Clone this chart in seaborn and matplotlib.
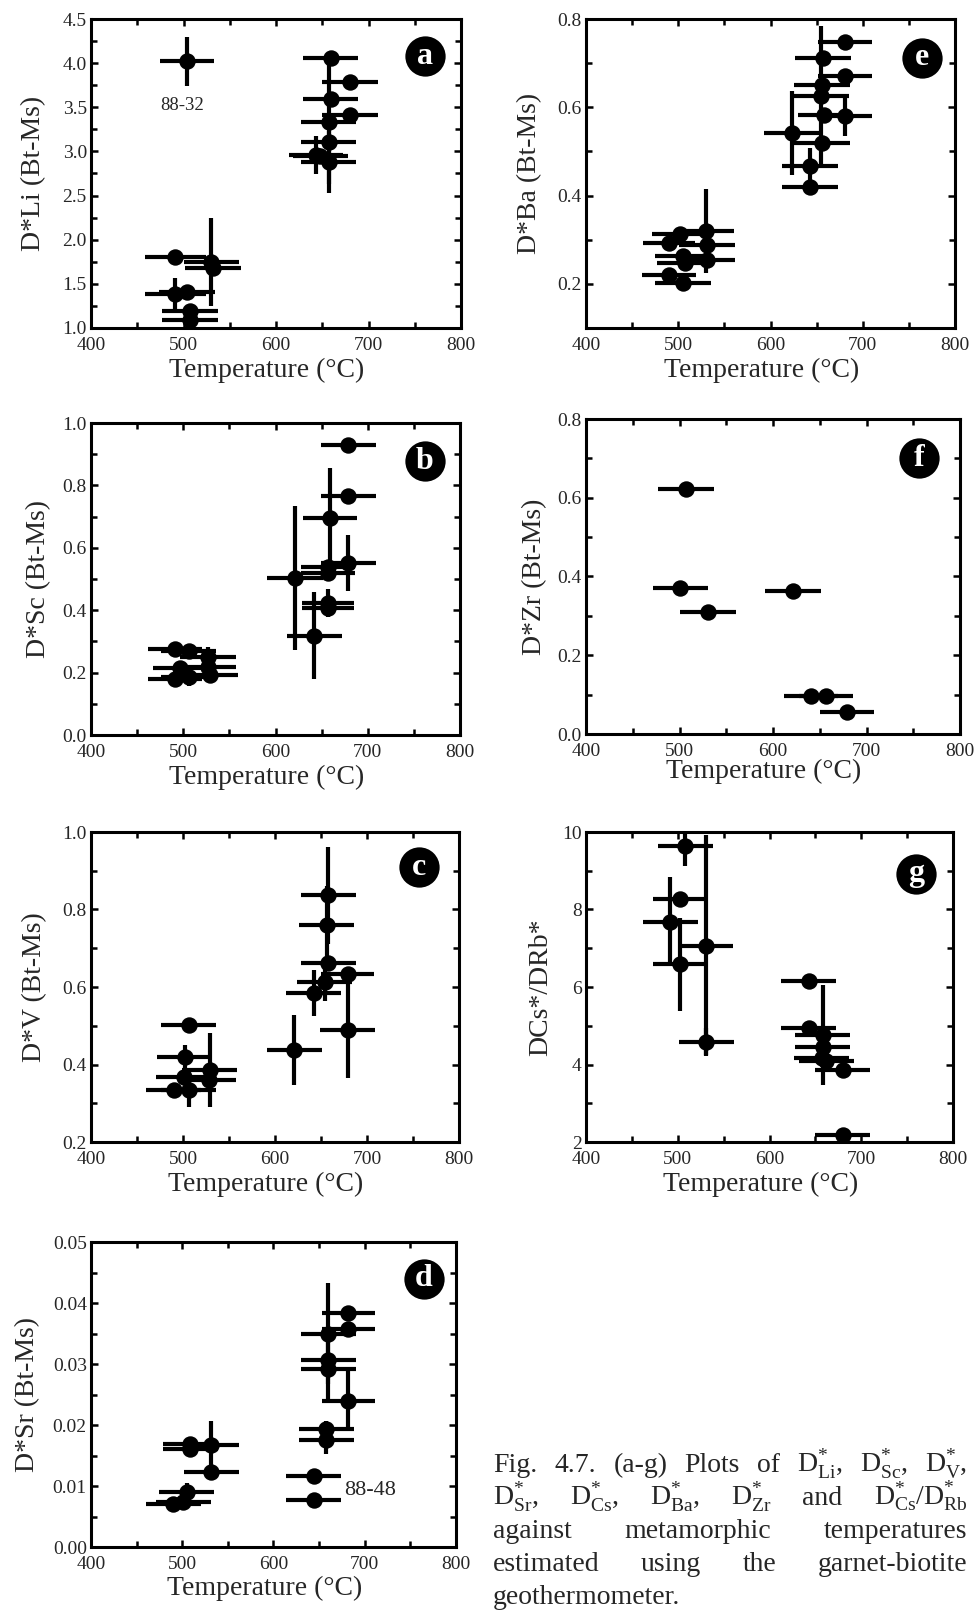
import matplotlib
matplotlib.use("Agg")
import matplotlib.pyplot as plt
from matplotlib.ticker import MultipleLocator, FormatStrFormatter
import numpy as np
import pandas as pd
import seaborn as sns

# ---------------------------------------------------------------- data
# (a) D*Li
T_LI = [504, 659, 680, 659, 680, 657, 657, 643, 648, 657, 491, 530, 532, 491, 504, 507, 507]
D_LI = [4.02, 4.06, 3.79, 3.59, 3.41, 3.33, 3.11, 2.96, 2.95, 2.88, 1.80, 1.75, 1.68, 1.38, 1.41, 1.19, 1.09]
YE_LI = [0.28, 0, 0, 0, 0, 0.70, 0, 0.22, 0, 0.35, 0, 0.50, 0, 0.19, 0, 0, 0]
XE_LI = [29, 30, 30, 30, 30, 30, 30, 29, 30, 30, 33, 30, 30, 33, 30, 30, 30]

# (e) D*Ba
T_BA = [681, 657, 681, 656, 655, 658, 681, 623, 656, 643, 643, 530, 502, 490, 531, 505, 531, 507, 490, 505]
D_BA = [0.749, 0.712, 0.670, 0.651, 0.625, 0.583, 0.580, 0.542, 0.519, 0.466, 0.420,
        0.319, 0.312, 0.293, 0.287, 0.263, 0.255, 0.248, 0.219, 0.202]
YE_BA = [0, 0, 0, 0, 0.16, 0, 0.045, 0.096, 0, 0.042, 0, 0.095, 0, 0, 0, 0, 0, 0, 0, 0]
XE_BA = [29, 30, 29, 30, 30, 28, 29, 30, 30, 30, 30, 30, 30, 28, 30, 30, 30, 30, 29, 30]

# (b) D*Sc
T_SC = [679, 679, 659, 679, 657, 657, 621, 657, 657, 642, 491, 506, 527, 497, 527, 529, 491, 506]
D_SC = [0.930, 0.767, 0.695, 0.551, 0.540, 0.519, 0.503, 0.422, 0.406, 0.318,
        0.275, 0.268, 0.251, 0.214, 0.219, 0.193, 0.179, 0.187]
YE_SC = [0, 0, 0.16, 0.09, 0, 0, 0.23, 0.045, 0, 0.14, 0, 0, 0.03, 0, 0, 0, 0, 0.03]
XE_SC = [30, 30, 29, 30, 29, 29, 30, 28, 28, 30, 29, 30, 30, 30, 30, 30, 29, 30]

# (f) D*Zr
T_ZR = [507, 501, 530, 621, 641, 657, 679]
D_ZR = [0.621, 0.371, 0.309, 0.364, 0.096, 0.096, 0.055]
XE_ZR = [30, 29, 30, 30, 29, 29, 29]

# (c) D*V
T_V = [658, 656, 658, 679, 654, 642, 679, 621, 506, 502, 529, 501, 490, 506, 528]
D_V = [0.837, 0.760, 0.661, 0.633, 0.614, 0.585, 0.489, 0.438, 0.502, 0.420, 0.386, 0.369, 0.335, 0.335, 0.360]
YE_V = [0.125, 0.10, 0, 0, 0.05, 0.06, 0.125, 0.09, 0, 0.03, 0.095, 0, 0, 0.045, 0]
XE_V = [30, 30, 30, 29, 30, 30, 30, 30, 30, 30, 30, 30, 30, 30, 30]

# (g) DCs*/DRb*
T_CSRB = [508, 502, 492, 531, 502, 531, 643, 643, 658, 658, 657, 662, 680, 680]
R_CSRB = [9.63, 8.26, 7.68, 7.06, 6.59, 4.59, 6.15, 4.95, 4.76, 4.46, 4.16, 4.08, 3.86, 2.19]
YE_CSRB = [0.5, 0, 1.15, 2.85, 1.2, 0.35, 0, 0, 1.3, 0, 0, 0, 0, 0]
XE_CSRB = [30, 29, 30, 29, 29, 30, 30, 30, 30, 30, 30, 30, 30, 30]

# (d) D*Sr
T_SR = [682, 660, 682, 660, 660, 682, 658, 658, 644, 644, 509, 509, 532, 532, 505, 490, 501]
D_SR = [0.0383, 0.0350, 0.0358, 0.0306, 0.0292, 0.0240, 0.0194, 0.0175, 0.0117, 0.0077,
        0.0169, 0.0161, 0.0167, 0.0123, 0.0090, 0.0071, 0.0074]
YE_SR = [0, 0.0083, 0, 0, 0.0055, 0.0048, 0.0012, 0.0022, 0, 0, 0, 0, 0.004, 0, 0.0015, 0, 0]
XE_SR = [29, 30, 29, 30, 30, 29, 30, 30, 30, 30, 30, 30, 30, 30, 30, 30, 30]

X_TICKS = [400, 500, 600, 700, 800]
X_LABEL = "Temperature (°C)"

# ---------------------------------------------------------------- style
sns.set_style("white")
plt.rcParams["font.family"] = ["Liberation Serif", "DejaVu Serif"]
plt.rcParams["mathtext.fontset"] = "custom"
plt.rcParams["mathtext.rm"] = "Liberation Serif"
plt.rcParams["mathtext.it"] = "Liberation Serif:italic"
plt.rcParams["mathtext.bf"] = "Liberation Serif:bold"

W, H = 974, 1610
fig = plt.figure(figsize=(W / 100, H / 100), dpi=100)
fig.patch.set_facecolor("white")


def make_axes(l, t, r, b):
    return fig.add_axes([l / W, 1 - b / H, (r - l) / W, (b - t) / H])


def panel(box, t, v, xe, ye, ylim, major, minor, fmt, ylabel, letter,
          letter_pos, ylab_x, xlab_y):
    ax = make_axes(*box)
    ax.errorbar(t, v, xerr=xe, yerr=ye, fmt="none", ecolor="black",
                elinewidth=3.0, capsize=0, zorder=2)
    df = pd.DataFrame({"T": t, "D": v})
    sns.scatterplot(data=df, x="T", y="D", ax=ax, color="black", s=140,
                    linewidth=0, zorder=3, legend=False)
    ax.set_xlim(400, 800)
    ax.set_ylim(*ylim)
    ax.set_xticks(X_TICKS)
    ax.xaxis.set_minor_locator(MultipleLocator(50))
    ax.yaxis.set_major_locator(MultipleLocator(major))
    ax.yaxis.set_minor_locator(MultipleLocator(minor))
    ax.yaxis.set_major_formatter(FormatStrFormatter(fmt))
    ax.xaxis.set_major_formatter(FormatStrFormatter("%d"))
    ax.tick_params(which="both", direction="in", top=True, right=True,
                   bottom=True, left=True, width=1.8, color="black",
                   labelsize=14)
    ax.tick_params(axis="y", which="both", pad=3)
    ax.tick_params(axis="x", which="both", pad=6.5)
    ax.tick_params(which="major", length=5)
    ax.tick_params(which="minor", length=4.5)
    for s in ax.spines.values():
        s.set_linewidth(2.2)
        s.set_color("black")
    ax.set_xlabel(X_LABEL, fontsize=20)
    ax.set_ylabel(ylabel, fontsize=20)
    ax.yaxis.set_label_coords(ylab_x, 0.5)
    ax.xaxis.set_label_coords(0.475, xlab_y)
    # panel letter in a black disc
    ax.scatter([letter_pos[0]], [letter_pos[1]], s=29 ** 2, c="black",
               transform=ax.transAxes, zorder=5, clip_on=False, linewidths=0)
    ax.text(letter_pos[0], letter_pos[1], letter, transform=ax.transAxes,
            color="white", fontsize=23, fontweight="bold", ha="center",
            va="center", zorder=6)
    return ax


ax_a = panel((91, 19, 461, 328), T_LI, D_LI, XE_LI, YE_LI, (1.0, 4.5), 0.5, 0.25,
             "%.1f", "D*Li (Bt-Ms)", "a", (0.904, 0.879), -0.12, -0.095)
ax_a.text(499, 3.52, "88-32", ha="center", va="center", fontsize=13.5)

ax_e = panel((586, 19, 955, 328), T_BA, D_BA, XE_BA, YE_BA, (0.1, 0.8), 0.2, 0.1,
             "%.1f", "D*Ba (Bt-Ms)", "e", (0.91, 0.874), -0.118, -0.095)

ax_b = panel((91, 423, 460, 735), T_SC, D_SC, XE_SC, YE_SC, (0.0, 1.0), 0.2, 0.1,
             "%.1f", "D*Sc (Bt-Ms)", "b", (0.905, 0.877), -0.107, -0.095)

ax_f = panel((586, 419, 960, 734), T_ZR, D_ZR, XE_ZR, None, (0.0, 0.8), 0.2, 0.1,
             "%.1f", "D*Zr (Bt-Ms)", "f", (0.891, 0.876), -0.103, -0.08)

ax_c = panel((91, 832, 459, 1142), T_V, D_V, XE_V, YE_V, (0.2, 1.0), 0.2, 0.1,
             "%.1f", "D*V (Bt-Ms)", "c", (0.892, 0.887), -0.12, -0.095)

ax_g = panel((586, 832, 953, 1142), T_CSRB, R_CSRB, XE_CSRB, YE_CSRB, (2, 10), 2, 1,
             "%d", "DCs*/DRb*", "g", (0.90, 0.866), -0.09, -0.095)

ax_d = panel((91, 1242, 456, 1547), T_SR, D_SR, XE_SR, YE_SR, (0.0, 0.05), 0.01, 0.005,
             "%.2f", "D*Sr (Bt-Ms)", "d", (0.912, 0.88), -0.14, -0.095)
ax_d.text(677, 0.0093, "88-48", ha="left", va="center", fontsize=16)

# ---------------------------------------------------------------- caption
CAPTION_LINES = [
    ["Fig.", "4.7.", "(a-g)", "Plots", "of",
     r"$\mathrm{D}_{\mathrm{Li}}^{*}$,", r"$\mathrm{D}_{\mathrm{Sc}}^{*}$,",
     r"$\mathrm{D}_{\mathrm{V}}^{*}$,"],
    [r"$\mathrm{D}_{\mathrm{Sr}}^{*}$,", r"$\mathrm{D}_{\mathrm{Cs}}^{*}$,",
     r"$\mathrm{D}_{\mathrm{Ba}}^{*}$,", r"$\mathrm{D}_{\mathrm{Zr}}^{*}$", "and",
     r"$\mathrm{D}_{\mathrm{Cs}}^{*}/\mathrm{D}_{\mathrm{Rb}}^{*}$"],
    ["against", "metamorphic", "temperatures"],
    ["estimated", "using", "the", "garnet-biotite"],
    ["geothermometer."],
]
CAPTION_BASELINES = [1472, 1505, 1538, 1571, 1604]
CAP_X0, CAP_X1 = 493, 967

renderer = fig.canvas.get_renderer()
for i, (words, yb) in enumerate(zip(CAPTION_LINES, CAPTION_BASELINES)):
    items = [fig.text(0, 1 - yb / H, w, fontsize=20, va="baseline", ha="left")
             for w in words]
    widths = [it.get_window_extent(renderer).width for it in items]
    last = i == len(CAPTION_LINES) - 1
    if last or len(items) == 1:
        gap = 0.28 * 20 * 100 / 72
    else:
        gap = (CAP_X1 - CAP_X0 - sum(widths)) / (len(items) - 1)
    x = CAP_X0
    for it, wd in zip(items, widths):
        it.set_x(x / W)
        x += wd + gap

fig.savefig("out.png", dpi=100, facecolor="white")
